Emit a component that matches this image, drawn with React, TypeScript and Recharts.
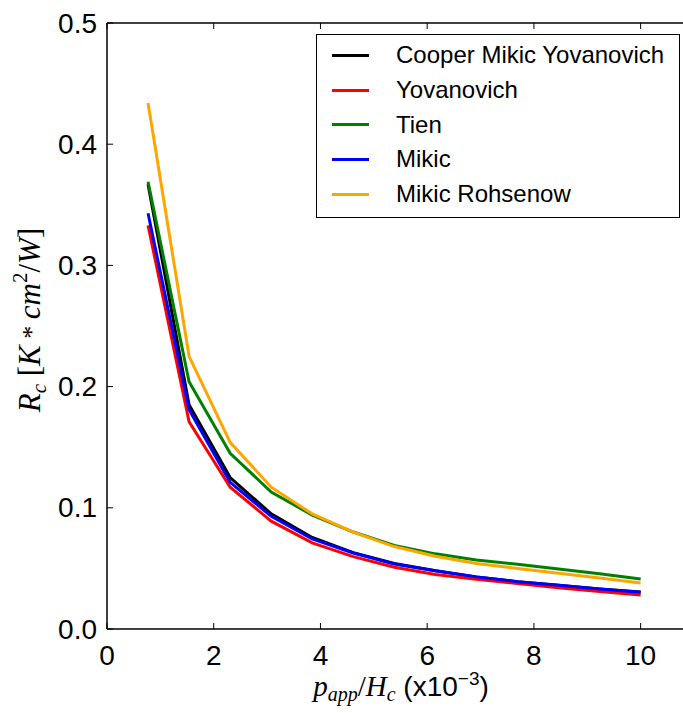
import React from 'react';
import { LineChart, Line, XAxis, YAxis, Legend } from 'recharts';

// p_app/H_c (x10^-3)
const pressureRatio = [0.769, 1.538, 2.308, 3.077, 3.846, 4.615, 5.385, 6.154, 6.923, 7.692, 8.462, 9.231, 10.0];

const cooperMikicYovanovich = [0.367, 0.185, 0.125, 0.095, 0.0755, 0.063, 0.054, 0.048, 0.043, 0.039, 0.036, 0.033, 0.0305];
const yovanovich = [0.333, 0.171, 0.117, 0.089, 0.071, 0.0597, 0.051, 0.045, 0.041, 0.0375, 0.034, 0.031, 0.028];
const tien = [0.369, 0.204, 0.145, 0.113, 0.094, 0.080, 0.069, 0.062, 0.057, 0.0535, 0.0495, 0.0455, 0.0413];
const mikic = [0.343, 0.181, 0.121, 0.093, 0.0743, 0.0627, 0.0536, 0.048, 0.043, 0.039, 0.036, 0.033, 0.0303];
const mikicRohsenow = [0.434, 0.225, 0.154, 0.117, 0.095, 0.080, 0.068, 0.060, 0.054, 0.050, 0.046, 0.042, 0.038];

const xTicks = [0, 2, 4, 6, 8, 10];
const yTicks = [0, 0.1, 0.2, 0.3, 0.4, 0.5];

const series = [
  { key: 'cmy', name: 'Cooper Mikic Yovanovich', color: '#000000', values: cooperMikicYovanovich },
  { key: 'yov', name: 'Yovanovich', color: '#ff0000', values: yovanovich },
  { key: 'tien', name: 'Tien', color: '#008000', values: tien },
  { key: 'mikic', name: 'Mikic', color: '#0000ff', values: mikic },
  { key: 'mr', name: 'Mikic Rohsenow', color: '#ffa500', values: mikicRohsenow },
];

const data = pressureRatio.map((x, i) => {
  const row: Record<string, number> = { x };
  series.forEach(s => { row[s.key] = s.values[i]; });
  return row;
});

const SANS = '"Liberation Sans", Arial, sans-serif';
const SERIF = '"Liberation Serif", "Times New Roman", serif';
const TICK_LEN = 6;

const BottomTick = ({ x, y, payload }: any) => (
  <g>
    <line x1={x} y1={y} x2={x} y2={y - TICK_LEN} stroke="#000" strokeWidth={1} />
    <text x={x} y={y + 26} textAnchor="middle" dominantBaseline="central"
          fontFamily={SANS} fontSize={28} fill="#000">{payload.value}</text>
  </g>
);

const TopTick = ({ x, y }: any) => (
  <line x1={x} y1={y} x2={x} y2={y + TICK_LEN} stroke="#000" strokeWidth={1} />
);

const LeftTick = ({ x, y, payload }: any) => (
  <g>
    <line x1={x} y1={y} x2={x + TICK_LEN} y2={y} stroke="#000" strokeWidth={1} />
    <text x={x - 10} y={y} textAnchor="end" dominantBaseline="central"
          fontFamily={SANS} fontSize={28} fill="#000">{Number(payload.value).toFixed(1)}</text>
  </g>
);

const RightTick = ({ x, y }: any) => (
  <line x1={x} y1={y} x2={x - TICK_LEN} y2={y} stroke="#000" strokeWidth={1} />
);

const XLabel = () => (
  <text x={401} y={696} textAnchor="middle" fill="#000" fontSize={29}>
    <tspan fontFamily={SERIF} fontStyle="italic">p</tspan>
    <tspan fontFamily={SERIF} fontStyle="italic" fontSize={20} dy={5}>app</tspan>
    <tspan fontFamily={SERIF} dy={-5}>/</tspan>
    <tspan fontFamily={SERIF} fontStyle="italic">H</tspan>
    <tspan fontFamily={SERIF} fontStyle="italic" fontSize={20} dy={5}>c</tspan>
    <tspan fontFamily={SANS} fontSize={28} dy={-5}> (x10</tspan>
    <tspan fontFamily={SANS} fontSize={19} dy={-11}>−3</tspan>
    <tspan fontFamily={SANS} fontSize={28} dy={11}>)</tspan>
  </text>
);

const YLabel = () => (
  <text x={0} y={0} transform="translate(40, 320) rotate(-90)" textAnchor="middle"
        fill="#000" fontFamily={SERIF} fontSize={31}>
    <tspan fontStyle="italic">R</tspan>
    <tspan fontStyle="italic" fontSize={21} dy={6}>c</tspan>
    <tspan dy={-6}> [</tspan>
    <tspan fontStyle="italic">K</tspan>
    <tspan fontSize={26}> * </tspan>
    <tspan fontStyle="italic">cm</tspan>
    <tspan fontSize={21} dy={-13}>2</tspan>
    <tspan dy={13}>/</tspan>
    <tspan fontStyle="italic">W</tspan>
    <tspan>]</tspan>
  </text>
);

const LegendBox = () => (
  <div style={{
    border: '1.5px solid #000', background: '#fff', width: 362, height: 179,
    paddingTop: 3, boxSizing: 'content-box', fontFamily: SANS, fontSize: 24, color: '#000',
  }}>
    {series.map(s => (
      <div key={s.key} style={{ height: 34.7, display: 'flex', alignItems: 'center' }}>
        <div style={{ marginLeft: 15, width: 37, height: 3, background: s.color }} />
        <span style={{ marginLeft: 27, lineHeight: '24px' }}>{s.name}</span>
      </div>
    ))}
  </div>
);

export default function App() {
  return (
    <div style={{ width: 683, height: 713, overflow: 'hidden', background: '#fff' }}>
      <style>{'body{margin:0}'}</style>
      <LineChart width={700} height={713} data={data}
                 margin={{ top: 22, right: 5, bottom: 24, left: 7 }}>
        <XAxis xAxisId="main" dataKey="x" type="number" domain={[0, 11]} ticks={xTicks}
               orientation="bottom" height={60} tickSize={0} tickMargin={0}
               tick={<BottomTick />} tickLine={false} axisLine={{ stroke: '#000', strokeWidth: 1.5 }}
               allowDataOverflow label={{ content: () => <XLabel /> }} />
        <XAxis xAxisId="top" dataKey="x" type="number" domain={[0, 11]} ticks={xTicks}
               orientation="top" height={1} tickSize={0} tickMargin={0}
               tick={<TopTick />} tickLine={false} axisLine={{ stroke: '#000', strokeWidth: 1.5 }}
               allowDataOverflow />
        <YAxis yAxisId="main" type="number" domain={[0, 0.5]} ticks={yTicks}
               orientation="left" width={100} tickSize={0} tickMargin={0}
               tick={<LeftTick />} tickLine={false} axisLine={{ stroke: '#000', strokeWidth: 1.5 }}
               allowDataOverflow label={{ content: () => <YLabel /> }} />
        <YAxis yAxisId="right" type="number" domain={[0, 0.5]} ticks={yTicks}
               orientation="right" width={1} tickSize={0} tickMargin={0}
               tick={<RightTick />} tickLine={false} axisLine={{ stroke: '#000', strokeWidth: 1.5 }}
               allowDataOverflow />
        <Legend layout="vertical" align="center" verticalAlign="middle"
                wrapperStyle={{ position: 'absolute', top: 34, left: 316, width: 'auto' }}
                content={<LegendBox />} />
        {series.map(s => (
          <Line key={s.key} xAxisId="main" yAxisId="main" dataKey={s.key} name={s.name}
                type="linear" stroke={s.color} strokeWidth={3} dot={false}
                isAnimationActive={false} />
        ))}
      </LineChart>
    </div>
  );
}
